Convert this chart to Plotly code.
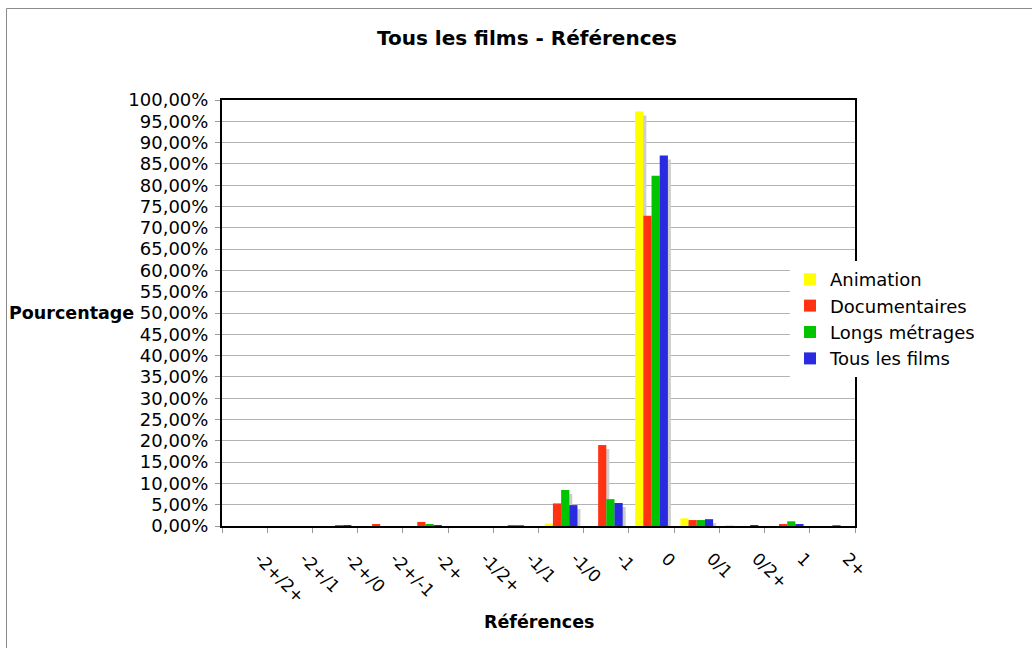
import plotly.graph_objects as go

categories = ["-2+/2+", "-2+/1", "-2+/0", "-2+/-1", "-2+", "-1/2+", "-1/1",
              "-1/0", "-1", "0", "0/1", "0/2+", "1", "2+"]

animation      = [0, 0, 0,   0,   0,    0, 0,    0.55, 0,    97.3, 1.8, 0.08, 0,    0]
documentaires  = [0, 0, 0,   0.3, 0.95, 0, 0.1,  5.3,  19.0, 72.8, 1.4, 0,    0.3,  0]
longs_metrages = [0, 0, 0.2, 0,   0.35, 0, 0.05, 8.45, 6.3,  82.2, 1.4, 0,    1.1,  0.08]
tous_les_films = [0, 0, 0.1, 0,   0.2,  0, 0,    4.9,  5.4,  87.0, 1.6, 0.05, 0.45, 0]

series_names = ["Animation", "Documentaires", "Longs métrages", "Tous les films"]
series_values = [animation, documentaires, longs_metrages, tous_les_films]
colors = ["#ffff00", "#ff3311", "#00c400", "#2a2ae0"]

# plot area geometry (pixels)
L, R, T, B = 222, 855, 100, 526
W, H = 1032, 648
pw, ph = R - L, B - T

bar_w = 0.181
shadow_dx = 3 / (pw / len(categories))
shadow_dy = 4 / (ph / 100.0)

fig = go.Figure()

# shadows first
for i, vals in enumerate(series_values):
    fig.add_trace(go.Bar(
        x=categories, y=vals, base=-shadow_dy,
        offset=(i - 2) * bar_w + shadow_dx, width=bar_w,
        marker=dict(color="#cdcdcd", line=dict(width=0)),
        showlegend=False, hoverinfo="skip",
    ))

for i, (name, vals) in enumerate(zip(series_names, series_values)):
    fig.add_trace(go.Bar(
        x=categories, y=vals, name=name,
        offset=(i - 2) * bar_w, width=bar_w,
        marker=dict(color=colors[i], line=dict(width=0)),
    ))

fig.update_layout(
    width=W, height=H,
    margin=dict(l=L, r=W - R, t=T, b=H - B, pad=0),
    barmode="overlay",
    separators=", ",
    plot_bgcolor="white", paper_bgcolor="white",
    font=dict(family="DejaVu Sans", color="black"),
    title=dict(text="<b>Tous les films - Références</b>",
               font=dict(size=20, family="DejaVu Sans", color="black"),
               xref="paper", x=(527 - L) / pw, xanchor="center",
               yref="container", y=1 - 38 / H, yanchor="middle"),
    legend=dict(x=(790 - L) / pw, y=(B - 261) / ph, xanchor="left", yanchor="top",
                bgcolor="white", borderwidth=0,
                font=dict(size=18, family="DejaVu Sans", color="black"),
                tracegroupgap=0),
    showlegend=True,
)

fig.update_xaxes(
    type="category", range=[-0.5, len(categories) - 0.5],
    showline=True, linecolor="black", linewidth=2, mirror=True,
    showgrid=False, ticks="outside", tickson="boundaries",
    ticklen=5, tickcolor="#999999", tickwidth=1,
    tickangle=45, tickfont=dict(size=17, family="DejaVu Sans", color="black"),
    ticklabelstandoff=14, ticklabelshift=15,
)
fig.update_yaxes(
    range=[0, 100], dtick=5, tick0=0,
    tickformat=".2f", ticksuffix="%",
    showline=True, linecolor="black", linewidth=2, mirror=True,
    showgrid=True, gridcolor="#b3b3b3", gridwidth=1,
    ticks="outside", ticklen=5, tickcolor="#999999", tickwidth=1,
    tickfont=dict(size=18, family="DejaVu Sans", color="black"),
    ticklabelstandoff=3,
    zeroline=False,
)

fig.add_annotation(text="<b>Pourcentage</b>", xref="paper", yref="paper",
                   x=(136 - L) / pw, y=0.5, xanchor="right", yanchor="middle",
                   showarrow=False, font=dict(size=17.5, family="DejaVu Sans", color="black"))
fig.add_annotation(text="<b>Références</b>", xref="paper", yref="paper",
                   x=(539 - L) / pw, y=-(622 - B) / ph, xanchor="center", yanchor="middle",
                   showarrow=False, font=dict(size=17.5, family="DejaVu Sans", color="black"))

# outer frame of the chart object
fig.add_shape(type="rect", xref="paper", yref="paper",
              x0=(6.5 - L) / pw, x1=(W + 40 - L) / pw,
              y0=(B - 8.5) / ph, y1=-(H + 40 - B) / ph,
              line=dict(color="#8c8c8c", width=1), fillcolor="rgba(0,0,0,0)", layer="below")

fig.write_html("out.html")
